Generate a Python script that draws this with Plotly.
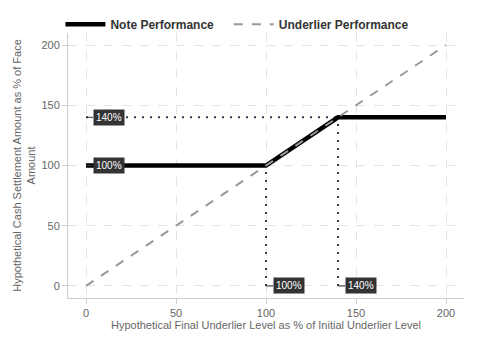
import plotly.graph_objects as go

note_x = [0, 100, 140, 200]
note_y = [100, 100, 140, 140]
under_x = [0, 200]
under_y = [0, 200]
ref_levels = [100, 140]
label_texts = ["100%", "140%"]

fig = go.Figure()
dot_color = "#2a3f5a"
for lv in ref_levels:
    fig.add_trace(go.Scatter(x=[0, lv], y=[lv, lv], mode="lines",
                             line=dict(color=dot_color, width=2, dash="2px,6px"),
                             showlegend=False, hoverinfo="skip"))
    fig.add_trace(go.Scatter(x=[lv, lv], y=[0, lv], mode="lines",
                             line=dict(color=dot_color, width=2, dash="2px,6px"),
                             showlegend=False, hoverinfo="skip"))

fig.add_trace(go.Scatter(x=note_x, y=note_y, mode="lines",
                         name="Note Performance" + "\u00a0" * 3,
                         line=dict(color="black", width=4.5)))
fig.add_trace(go.Scatter(x=under_x, y=under_y, mode="lines", name="Underlier Performance",
                         line=dict(color="#999999", width=2, dash="dash")))

for lv, t in zip(ref_levels, label_texts):
    for (xx, yy) in [(0, lv), (lv, 0)]:
        fig.add_annotation(x=xx, y=yy, text=t, showarrow=True, arrowhead=0,
                           arrowwidth=1, arrowcolor="#333333", ax=7, ay=0,
                           xanchor="left", yanchor="middle",
                           bgcolor="#333333", font=dict(color="white", size=10),
                           borderpad=2)

axis_common = dict(range=[-10, 210], tickvals=[0, 50, 100, 150, 200],
                   showgrid=True, gridcolor="#e3e3e3", griddash="dash", gridwidth=1,
                   zeroline=False, showline=True, linecolor="#c8ced6", linewidth=1,
                   ticks="outside", tickcolor="#c8ced6", ticklen=5,
                   tickfont=dict(size=11, color="#666666"), automargin=False)

fig.update_xaxes(**axis_common,
                 title=dict(text="Hypothetical Final Underlier Level as % of Initial Underlier Level",
                            font=dict(size=11, color="#666666"), standoff=2))
fig.update_yaxes(**axis_common,
                 title=dict(text="Hypothetical Cash Settlement Amount as % of Face<br>Amount",
                            font=dict(size=11, color="#666666"), standoff=3))

fig.update_layout(
    width=464, height=344,
    margin=dict(l=60, r=8, t=25, b=54, autoexpand=False),
    plot_bgcolor="white", paper_bgcolor="white",
    font=dict(family="Liberation Sans, Arial, sans-serif"),
    legend=dict(orientation="h", x=0.113, xref="container", y=0.995, yref="container",
                xanchor="left", yanchor="top", bgcolor="rgba(0,0,0,0)",
                font=dict(size=12, color="#333333", weight="bold"),
                itemwidth=40, tracegroupgap=0),
)

fig.write_html("out.html")
